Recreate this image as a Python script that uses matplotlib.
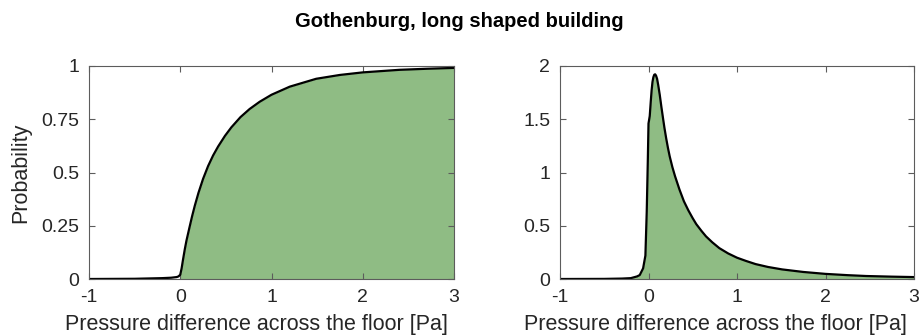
import matplotlib

matplotlib.use("Agg")
import matplotlib.pyplot as plt

plt.rcParams["font.family"] = ["Liberation Sans", "DejaVu Sans"]

# cumulative probability (left panel)
cdf_x = [-1.0, -0.5, -0.2, -0.1, -0.04, -0.02, 0.0, 0.015, 0.03, 0.05, 0.068,
         0.10, 0.13, 0.16, 0.20, 0.25, 0.305, 0.36, 0.415, 0.49, 0.56, 0.66,
         0.76, 0.87, 1.0, 1.2, 1.49, 1.75, 2.0, 2.4, 2.7, 3.0]
cdf_y = [0.0, 0.001, 0.004, 0.006, 0.009, 0.012, 0.02, 0.05, 0.09, 0.14, 0.18,
         0.24, 0.295, 0.345, 0.405, 0.47, 0.53, 0.58, 0.622, 0.672, 0.712, 0.76,
         0.798, 0.832, 0.865, 0.903, 0.94, 0.958, 0.97, 0.982, 0.987, 0.991]

# probability density (right panel)
pdf_x = [-1.0, -0.5, -0.3, -0.2, -0.13, -0.099, -0.061, -0.035, -0.02, -0.008,
         0.0, 0.006, 0.014, 0.025, 0.035, 0.045, 0.055, 0.065, 0.075, 0.085,
         0.097, 0.11, 0.127, 0.145, 0.164, 0.18, 0.20, 0.22, 0.24, 0.27,
         0.30, 0.35, 0.40, 0.45, 0.50, 0.54, 0.60, 0.65, 0.72, 0.80, 0.90,
         1.0, 1.1, 1.21, 1.35, 1.51, 1.75, 2.0, 2.25, 2.46, 2.75, 3.0]
pdf_y = [0.0, 0.001, 0.004, 0.008, 0.024, 0.037, 0.10, 0.22, 0.63, 1.10,
         1.46, 1.49, 1.53, 1.66, 1.77, 1.85, 1.895, 1.918, 1.922, 1.91,
         1.88, 1.82, 1.73, 1.62, 1.51, 1.42, 1.32, 1.23, 1.15, 1.05,
         0.965, 0.84, 0.73, 0.645, 0.57, 0.515, 0.45, 0.40, 0.345, 0.29, 0.24,
         0.20, 0.17, 0.14, 0.113, 0.09, 0.066, 0.048, 0.036, 0.028, 0.022, 0.018]

cdf_fill_from = 0.0
pdf_fill_from = -0.2

x_ticks = [-1, 0, 1, 2, 3]
x_tick_labels = ["-1", "0", "1", "2", "3"]
cdf_ticks = [0, 0.25, 0.5, 0.75, 1]
cdf_tick_labels = ["0", "0.25", "0.5", "0.75", "1"]
pdf_ticks = [0, 0.5, 1, 1.5, 2]
pdf_tick_labels = ["0", "0.5", "1", "1.5", "2"]

title = "Gothenburg, long shaped building"
x_label = "Pressure difference across the floor [Pa]"
y_label = "Probability"

fill_color = "#8fbc84"
text_color = "#262626"
frame_color = "#5c5c5c"


def style_axis(axis, yticks, ytick_labels, ylim, label_x):
    axis.set_xlim(-1, 3)
    axis.set_ylim(*ylim)
    axis.set_xticks(x_ticks)
    axis.set_xticklabels(x_tick_labels)
    axis.set_yticks(yticks)
    axis.set_yticklabels(ytick_labels)
    axis.tick_params(direction="in", length=4, width=0.8, top=True, right=True,
                     labelsize=14, colors=frame_color, labelcolor=text_color,
                     pad=7)
    for spine in axis.spines.values():
        spine.set_color(frame_color)
        spine.set_linewidth(0.8)
    axis.set_xlabel(x_label, fontsize=15.5, color=text_color)
    axis.xaxis.set_label_coords(label_x, -0.162)
    axis.xaxis.label.set_va("top")


def draw_curve(axis, xs, ys, fill_from):
    fx = [x for x in xs if x >= fill_from]
    fy = [y for x, y in zip(xs, ys) if x >= fill_from]
    axis.fill_between(fx, 0, fy, color=fill_color, linewidth=0)
    axis.plot(xs, ys, color="black", linewidth=1.6, solid_joinstyle="round")


figure = plt.figure(figsize=(9.19, 3.35), dpi=100)
left = figure.add_axes([89 / 919, 56 / 335, 365 / 919, 213 / 335])
right = figure.add_axes([560 / 919, 56 / 335, 354 / 919, 213 / 335])

draw_curve(left, cdf_x, cdf_y, cdf_fill_from)
style_axis(left, cdf_ticks, cdf_tick_labels, (0, 1), 0.458)
left.set_ylabel(y_label, fontsize=15.5, color=text_color, labelpad=7)

draw_curve(right, pdf_x, pdf_y, pdf_fill_from)
style_axis(right, pdf_ticks, pdf_tick_labels, (0, 2), 0.438)

figure.text(0.5, 0.935, title, ha="center", va="center", fontsize=14.5,
            fontweight="bold", color="black")

figure.savefig("out.png", dpi=100)
plt.close(figure)
